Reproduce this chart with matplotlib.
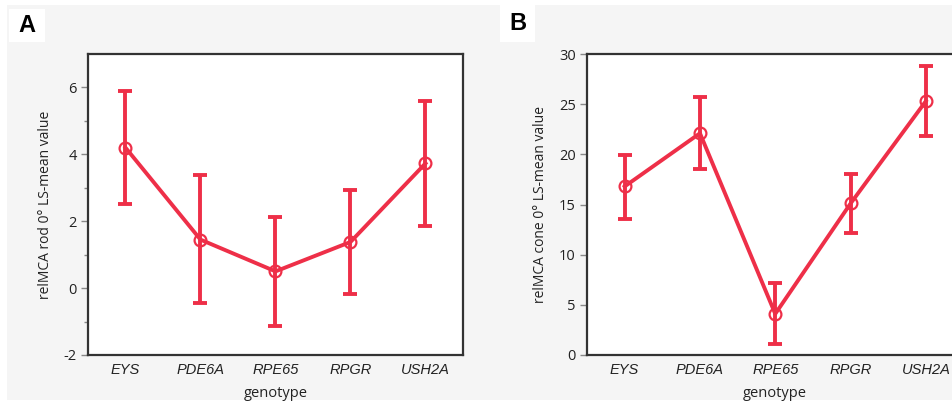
import matplotlib
matplotlib.use("Agg")
import matplotlib.pyplot as plt
from matplotlib.patches import Rectangle
import numpy as np

genotypes = ["EYS", "PDE6A", "RPE65", "RPGR", "USH2A"]

rod_mean = [4.2, 1.45, 0.5, 1.38, 3.73]
rod_low = [2.52, -0.45, -1.13, -0.18, 1.87]
rod_high = [5.88, 3.37, 2.12, 2.93, 5.60]

cone_mean = [16.8, 22.1, 4.1, 15.1, 25.3]
cone_low = [13.6, 18.5, 1.1, 12.2, 21.8]
cone_high = [19.9, 25.7, 7.2, 18.0, 28.8]

RED = "#ee2f48"
W, H = 953, 405

plt.rcParams['font.family'] = ['Open Sans', 'DejaVu Sans']
plt.rcParams['axes.unicode_minus'] = False
fig = plt.figure(figsize=(W / 100, H / 100), dpi=100)
fig.patch.set_facecolor("white")

# light gray panel background
fig.add_artist(Rectangle((7 / W, 1 - 400 / H), 1, (400 - 5) / H,
                         transform=fig.transFigure, facecolor="#f5f5f5",
                         edgecolor="none", zorder=-10))
# white label boxes
fig.add_artist(Rectangle((9 / W, 1 - 42 / H), 36 / W, 33 / H,
                         transform=fig.transFigure, facecolor="white",
                         edgecolor="none", zorder=-5))
fig.add_artist(Rectangle((500 / W, 1 - 42 / H), 35 / W, 37 / H,
                         transform=fig.transFigure, facecolor="white",
                         edgecolor="none", zorder=-5))
fig.text(27 / W, 1 - 26 / H, "A", fontsize=17, fontweight="bold",
         ha="center", va="center", family=['Liberation Sans', 'DejaVu Sans'])
fig.text(518 / W, 1 - 24 / H, "B", fontsize=17, fontweight="bold",
         ha="center", va="center", family=['Liberation Sans', 'DejaVu Sans'])


def draw(ax, mean, low, high, ylim, major, minor, ylabel):
    x = np.arange(len(genotypes))
    mean = np.array(mean)
    yerr = np.vstack([mean - np.array(low), np.array(high) - mean])
    ax.errorbar(x, mean, yerr=yerr, fmt="none", ecolor=RED, elinewidth=2.8,
                capsize=5, capthick=2.8, zorder=2)
    ax.plot(x, mean, color=RED, lw=2.8, zorder=3)
    ax.plot(x, mean, "o", ms=8.5, mfc="none", mec=RED, mew=1.6, zorder=4)
    ax.set_xlim(-0.5, len(genotypes) - 0.5)
    ax.set_ylim(*ylim)
    ax.set_xticks(x)
    ax.set_xticklabels(genotypes, fontstyle="italic", fontsize=10.5,
                       family=['Liberation Sans', 'DejaVu Sans'])
    ax.set_yticks(major)
    ax.set_yticks(minor, minor=True)
    ax.tick_params(axis="x", length=0, pad=6, colors="#222222")
    ax.tick_params(axis="y", which="major", length=5, width=1,
                   color="#888888", labelsize=10.5, labelcolor="#222222", pad=3)
    ax.tick_params(axis="y", which="minor", length=3, width=1, color="#888888")
    for s in ax.spines.values():
        s.set_color("#333333")
        s.set_linewidth(1.6)
    ax.set_facecolor("white")
    ax.set_xlabel("genotype", fontsize=10.5, color="#222222", labelpad=6)
    ax.set_ylabel(ylabel, fontsize=10, color="#222222", labelpad=8)


ax1 = fig.add_axes([88 / W, 1 - 355 / H, 375 / W, 301 / H])
draw(ax1, rod_mean, rod_low, rod_high, (-2, 7), [-2, 0, 2, 4, 6],
     [-1, 1, 3, 5], "relMCA rod 0° LS-mean value")

ax2 = fig.add_axes([587 / W, 1 - 355 / H, 376.5 / W, 301 / H])
draw(ax2, cone_mean, cone_low, cone_high, (0, 30), [0, 5, 10, 15, 20, 25, 30],
     [], "relMCA cone 0° LS-mean value")

fig.savefig("out.png", dpi=100, facecolor=fig.get_facecolor())
